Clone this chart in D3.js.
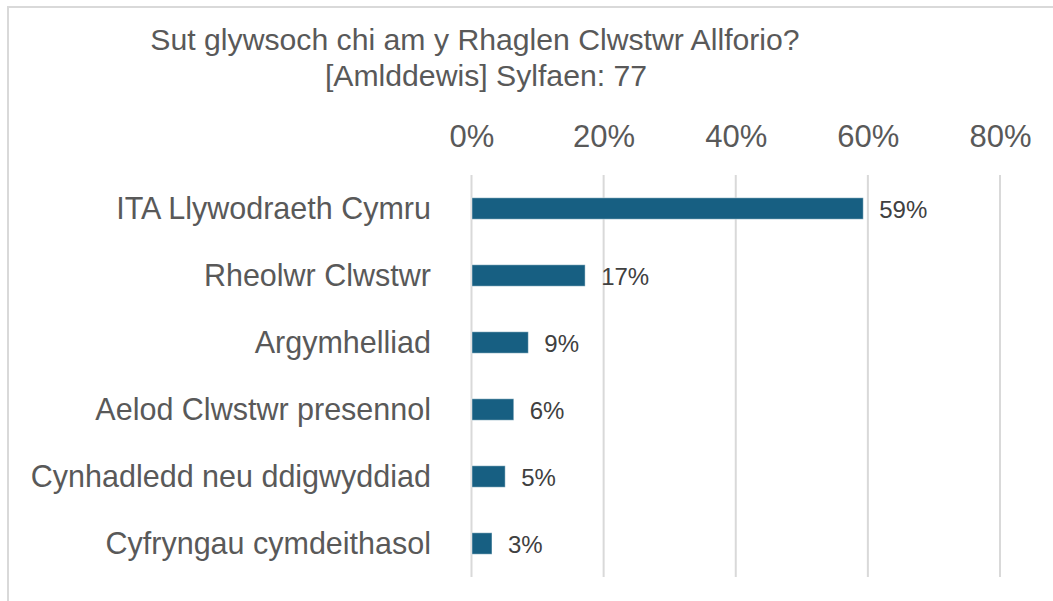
<!DOCTYPE html>
<html>
<head>
<meta charset="utf-8">
<script src="https://cdn.jsdelivr.net/npm/d3@7"></script>
<style>
  html, body { margin: 0; padding: 0; background: #fff; }
  svg { display: block; font-family: "Liberation Sans", Arial, sans-serif; }
</style>
</head>
<body>
<svg id="chart" width="1053" height="601"></svg>
<script>
// ---- data ----
const titleLines = ["Sut glywsoch chi am y Rhaglen Clwstwr Allforio?", "[Amlddewis] Sylfaen: 77"];
const categories = [
  "ITA Llywodraeth Cymru",
  "Rheolwr Clwstwr",
  "Argymhelliad",
  "Aelod Clwstwr presennol",
  "Cynhadledd neu ddigwyddiad",
  "Cyfryngau cymdeithasol"
];
const values = [0.593, 0.172, 0.086, 0.064, 0.051, 0.031];
const valueLabels = ["59%", "17%", "9%", "6%", "5%", "3%"];
const xTicks = [0, 0.2, 0.4, 0.6, 0.8];

// ---- drawing ----
const svg = d3.select("#chart");
const barColor = "#175f82";
const textGray = "#595959";

// chart area border (cropped at right / bottom)
svg.append("rect")
  .attr("x", 8).attr("y", 7)
  .attr("width", 1200).attr("height", 800)
  .attr("fill", "none")
  .attr("stroke", "#d9d9d9")
  .attr("stroke-width", 2);

const x = d3.scaleLinear().domain([0, 0.8]).range([471.5, 1000]);
const y = d3.scaleBand().domain(categories).range([175, 577])
  .paddingInner(0.68).paddingOuter(0.34);

// title
const title = svg.append("g").attr("fill", textGray).attr("font-size", 30.2);
title.append("text").attr("x", 475).attr("y", 50).attr("text-anchor", "middle").text(titleLines[0]);
title.append("text").attr("x", 486).attr("y", 86).attr("text-anchor", "middle").text(titleLines[1]);

// gridlines
svg.append("g")
  .selectAll("line")
  .data(xTicks)
  .join("line")
  .attr("x1", d => x(d)).attr("x2", d => x(d))
  .attr("y1", 175).attr("y2", 577)
  .attr("stroke", "#d9d9d9")
  .attr("stroke-width", 2);

// top axis labels
const xAxis = svg.append("g")
  .attr("transform", "translate(0,146.5)")
  .call(d3.axisTop(x).tickValues(xTicks).tickFormat(d3.format(".0%")).tickSize(0).tickPadding(0));
xAxis.select(".domain").remove();
xAxis.selectAll("text")
  .attr("y", 0).attr("dy", "0em")
  .attr("fill", textGray)
  .attr("font-size", 31)
  .attr("font-family", "Liberation Sans, Arial, sans-serif");

// category axis
const yAxis = svg.append("g")
  .attr("transform", "translate(431,0)")
  .call(d3.axisLeft(y).tickSize(0).tickPadding(0));
yAxis.select(".domain").remove();
yAxis.selectAll("text")
  .attr("x", 0).attr("dy", "0.33em")
  .attr("fill", textGray)
  .attr("font-size", 30.5)
  .attr("font-family", "Liberation Sans, Arial, sans-serif");

// bars
svg.append("g")
  .selectAll("rect")
  .data(values)
  .join("rect")
  .attr("x", x(0) + 0.5)
  .attr("y", (d, i) => y(categories[i]))
  .attr("width", d => x(d) - x(0) - 0.5)
  .attr("height", y.bandwidth())
  .attr("fill", barColor)
  .attr("stroke", "#ffffff")
  .attr("stroke-opacity", 0.45)
  .attr("stroke-width", 1);

// value labels
svg.append("g")
  .selectAll("text")
  .data(values)
  .join("text")
  .attr("x", d => x(d) + 16)
  .attr("y", (d, i) => y(categories[i]) + y.bandwidth() / 2)
  .attr("dy", "0.4em")
  .attr("fill", "#404040")
  .attr("font-size", 24)
  .text((d, i) => valueLabels[i]);
</script>
</body>
</html>
